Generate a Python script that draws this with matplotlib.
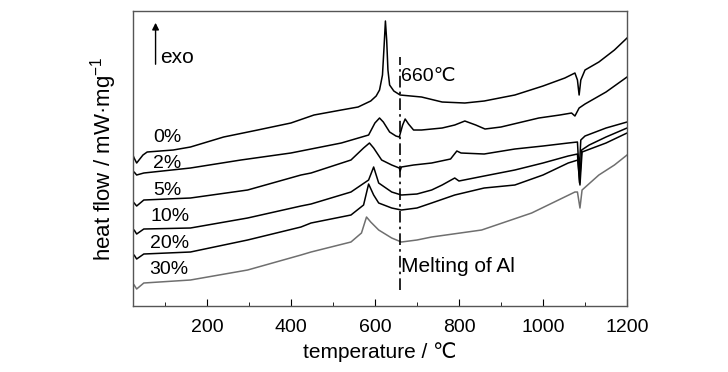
import matplotlib
matplotlib.use("Agg")
import matplotlib.pyplot as plt
from matplotlib import font_manager
from matplotlib.ticker import MultipleLocator

# font: narrow sans if present, DejaVu for the degree sign
names = {f.name for f in font_manager.fontManager.ttflist}
main_font = "Liberation Sans Narrow" if "Liberation Sans Narrow" in names else "Liberation Sans"
fam = [main_font, "DejaVu Sans"]
plt.rcParams["font.family"] = fam
plt.rcParams["mathtext.fontset"] = "custom"
plt.rcParams["mathtext.rm"] = main_font
plt.rcParams["mathtext.it"] = main_font

# ================================
# data (heat flow in arbitrary units, stacked as in the figure)
# ================================
labels = ["0%", "2%", "5%", "10%", "20%", "30%"]

t_0 = [25, 27, 33, 48, 58, 120, 161, 240, 321, 400, 455, 520, 560, 590, 603, 611, 618, 622, 625,
       628, 631, 635, 645, 660, 711, 760, 814, 860, 933, 1000, 1052, 1076, 1082, 1086, 1090,
       1100, 1133, 1170, 1200]
hf_0 = [150, 148, 143, 151, 154, 156, 159, 169, 176, 183, 191, 196, 199, 205, 210, 216, 231, 261, 285,
        266, 236, 221, 215, 211, 209, 204, 203, 205, 211, 220, 228, 233, 226, 211, 226,
        236, 244, 256, 268]

t_2 = [25, 27, 33, 50, 161, 281, 400, 520, 585, 600, 611, 620, 635, 650, 658, 666, 672,
       680, 692, 711, 760, 790, 814, 840, 862, 900, 990, 1040, 1068, 1076, 1086, 1100, 1150, 1200]
hf_2 = [133, 134, 131, 133, 138, 146, 153, 163, 171, 183, 188, 184, 174, 170, 169, 181, 187,
        182, 176, 176, 178, 181, 185, 181, 177, 179, 188, 191, 193, 190, 198, 202, 214, 229]

t_5 = [25, 27, 33, 50, 161, 297, 424, 448, 543, 573, 587, 597, 616, 640, 658, 660, 663, 692,
       735, 780, 795, 805, 860, 933, 1000, 1060, 1082, 1086, 1090, 1100, 1150, 1200]
hf_5 = [104, 103, 100, 106, 108, 116, 131, 133, 146, 158, 163, 158, 146, 141, 138, 135, 139, 141,
        143, 147, 155, 153, 152, 157, 160, 163, 164, 134, 166, 170, 178, 184]

t_10 = [25, 27, 33, 50, 161, 297, 424, 448, 543, 585, 597, 609, 640, 663, 700, 735, 760, 790, 800,
        860, 933, 1000, 1060, 1082, 1087, 1092, 1110, 1150, 1200]
hf_10 = [75, 76, 72, 77, 78, 88, 100, 102, 114, 126, 139, 123, 114, 111, 112, 116, 121, 128, 125,
         130, 136, 143, 150, 152, 123, 156, 161, 169, 178]

t_20 = [25, 27, 33, 50, 161, 297, 424, 448, 543, 573, 585, 597, 609, 640, 663, 700, 735, 790,
        860, 933, 1000, 1060, 1083, 1088, 1093, 1150, 1200]
hf_20 = [50, 51, 47, 52, 54, 66, 79, 83, 91, 101, 122, 111, 103, 98, 96, 98, 103, 111,
         118, 121, 131, 143, 146, 121, 154, 163, 173]

t_30 = [25, 27, 33, 50, 161, 297, 424, 448, 543, 568, 580, 590, 609, 640, 663, 700, 735, 854,
        973, 1076, 1082, 1088, 1093, 1133, 1170, 1200]
hf_30 = [22, 21, 17, 23, 26, 36, 51, 54, 64, 73, 89, 84, 76, 68, 64, 66, 69, 76,
         93, 114, 114, 98, 116, 131, 141, 151]

temps = [t_0, t_2, t_5, t_10, t_20, t_30]
flows = [hf_0, hf_2, hf_5, hf_10, hf_20, hf_30]
colors = ["black", "black", "black", "black", "black", "#6f6f6f"]

# label anchor (temperature, heat flow)
label_t = [72, 72, 72, 67, 64, 64]
label_hf = [169, 143, 116, 90, 63, 37]

melt_t = 660

# ================================
# plot
# ================================
fig = plt.figure(figsize=(7.28, 3.72), dpi=100)
ax = fig.add_axes([0.1831, 0.1774, 0.6782, 0.7930])

for t, hf, c in zip(temps, flows, colors):
    ax.plot(t, hf, color=c, lw=1.1)

for lab, lt, lh in zip(labels, label_t, label_hf):
    ax.text(lt, lh, lab, fontsize=14, ha="left", va="center")

ax.plot([melt_t, melt_t], [16, 249], color="black", lw=1.2, linestyle=(0, (7, 2.5, 1.5, 2.5)))
ax.text(melt_t + 3, 230, "660℃", fontsize=14, ha="left", va="center", family=fam)
ax.text(melt_t + 3, 40, "Melting of Al", fontsize=15, ha="left", va="center")

ax.annotate("", xy=(78, 286), xytext=(78, 239),
            arrowprops=dict(arrowstyle="-|>", color="black", lw=1.0, mutation_scale=10))
ax.text(90, 249, "exo", fontsize=15, ha="left", va="center")

ax.set_xlim(25, 1200)
ax.set_ylim(0, 295)
ax.xaxis.set_major_locator(MultipleLocator(200))
ax.xaxis.set_minor_locator(MultipleLocator(100))
ax.set_xticks([200, 400, 600, 800, 1000, 1200])
ax.tick_params(axis="x", which="major", direction="in", length=5, labelsize=14, pad=9)
ax.tick_params(axis="x", which="minor", direction="in", length=3)
ax.set_yticks([])
for s in ax.spines.values():
    s.set_color("#555555")
    s.set_linewidth(1.0)

ax.set_xlabel("temperature / ℃", fontsize=15, labelpad=5, family=fam)
ax.set_ylabel("heat flow / mW·mg$^{-1}$", fontsize=16, labelpad=10, family=fam)

plt.savefig("out.png", dpi=100)
plt.close()
